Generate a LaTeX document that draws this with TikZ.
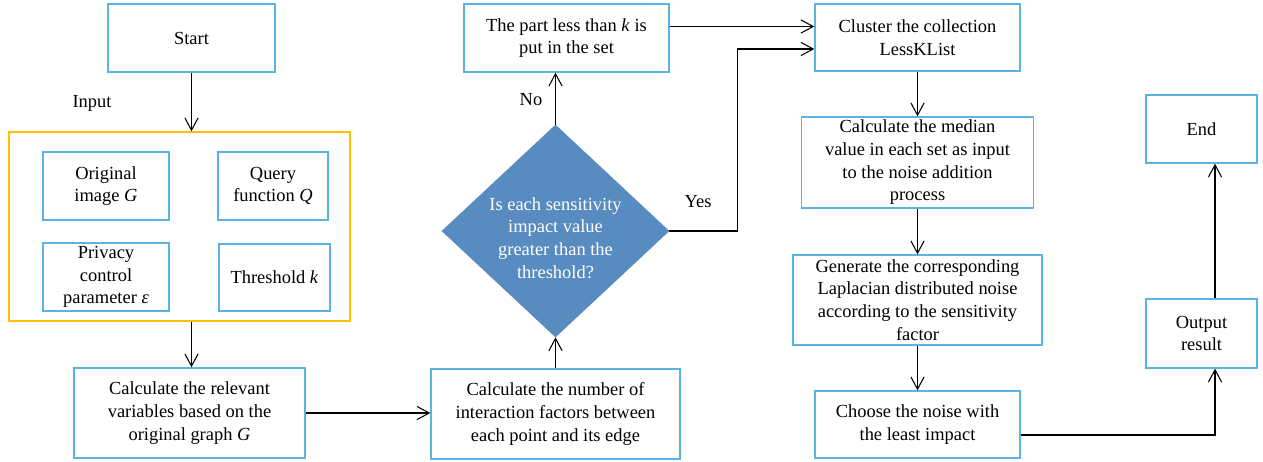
\documentclass[tikz,border=0pt]{standalone}
\usepackage{fontspec}
\setmainfont{Liberation Serif}
\usetikzlibrary{arrows.meta,shapes.geometric}

\definecolor{boxblue}{RGB}{92,178,226}
\definecolor{inputgold}{RGB}{255,192,0}
\definecolor{decideblue}{RGB}{88,140,192}

\tikzset{
  box/.style={draw=boxblue,line width=0.8pt,align=center,inner sep=1pt,
    font=\fontsize{10.5}{12.9}\selectfont},
  tag/.style={font=\fontsize{10.5}{12.9}\selectfont},
  flow/.style={-{Straight Barb[length=7pt,width=7.5pt]},line width=0.6pt},
}

\begin{document}
\begin{tikzpicture}[x=0.02cm,y=-0.02cm]
  \useasboundingbox (0,0) rectangle (1263,462);

  % left column
  \node[box,minimum width=3.34cm,minimum height=1.36cm] (start) at (191.5,38) {Start};
  \node[tag] (inlabel) at (92,103) {Input};
  \node[draw=inputgold,line width=0.8pt,minimum width=6.82cm,minimum height=3.78cm] (inputs) at (179.5,226.5) {};
  \node[box,minimum width=2.52cm,minimum height=1.36cm] (orig) at (106,186) {Original\\image \textit{G}};
  \node[box,minimum width=2.2cm,minimum height=1.36cm] (query) at (273,186) {Query\\function \textit{Q}};
  \node[box,minimum width=2.52cm,minimum height=1.36cm] (priv) at (106,277) {Privacy\\control\\parameter \textit{ε}};
  \node[box,minimum width=2.22cm,minimum height=1.34cm] (thresh) at (274.5,277.5) {Threshold \textit{k}};
  \node[box,minimum width=4.62cm,minimum height=1.8cm] (relv) at (189.5,413) {Calculate the relevant\\variables based on the\\original graph \textit{G}};

  % middle column
  \node[box,minimum width=4.98cm,minimum height=1.8cm] (number) at (555.5,414) {Calculate the number of\\interaction factors between\\each point and its edge};
  \node[diamond,fill=decideblue,draw=decideblue,inner sep=0pt,minimum width=4.54cm,minimum height=4.24cm] (decide) at (555.5,231) {};
  \node[tag,text=white,align=center] (decidetext) at ([yshift=-0.14cm]decide.center) {Is each sensitivity\\impact value\\greater than the\\threshold?};
  \node[box,minimum width=4.1cm,minimum height=1.36cm] (less) at (566.5,38) {The part less than \textit{k} is\\put in the set};
  \node[tag] (nolabel) at (531,100) {No};
  \node[tag] (yeslabel) at (698,202) {Yes};

  % right column
  \node[box,minimum width=4.1cm,minimum height=1.34cm] (cluster) at (917.5,37.5) {Cluster the collection\\LessKList};
  \node[box,minimum width=4.64cm,minimum height=1.82cm] (median) at (917.5,162.5) {Calculate the median\\value in each set as input\\to the noise addition\\process};
  \node[box,minimum width=4.98cm,minimum height=1.8cm] (generate) at (917.5,300) {Generate the corresponding\\Laplacian distributed noise\\according to the sensitivity\\factor};
  \node[box,minimum width=4.1cm,minimum height=1.34cm] (choose) at (917.5,424.5) {Choose the noise with\\the least impact};
  \node[box,minimum width=2.22cm,minimum height=1.38cm] (output) at (1201.5,333.5) {Output\\result};
  \node[box,minimum width=2.22cm,minimum height=1.36cm] (end) at (1201.5,129) {End};

  % connectors
  \draw[flow] (start.south) -- (start.south |- inputs.north);
  \draw[flow] (start.south |- inputs.south) -- (start.south |- relv.north);
  \draw[flow] (relv.east) -- (relv.east -| number.west);
  \draw[flow] (number.north) -- (decide.south);
  \draw[flow] (decide.north) -- (decide.north |- less.south);
  \draw[flow] ([yshift=0.23cm]less.east) -- ([yshift=0.23cm]less.east -| cluster.west);
  \draw[flow] (decide.east) -- ++(68,0) |- ([yshift=-0.23cm]cluster.west);
  \draw[flow] (cluster.south) -- (median.north);
  \draw[flow] (median.south) -- (generate.north);
  \draw[flow] (generate.south) -- (choose.north);
  \draw[flow] ([yshift=-0.21cm]choose.east) -| ([xshift=0.27cm]output.south);
  \draw[flow] ([xshift=0.27cm]output.north) -- ([xshift=0.27cm]end.south);
\end{tikzpicture}
\end{document}
